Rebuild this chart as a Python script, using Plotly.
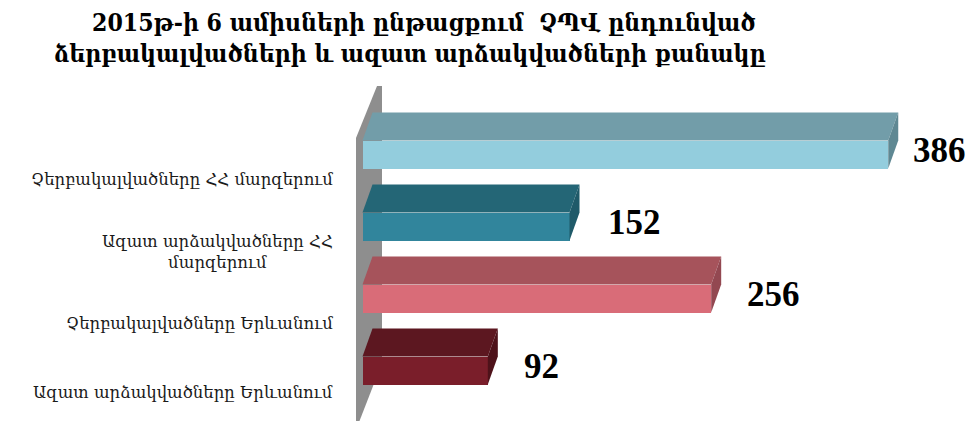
import plotly.graph_objects as go

# ---- data ----
categories = [
    "Չերբակալվածները ՀՀ մարզերում",
    "Ազատ արձակվածները ՀՀ<br>մարզերում",
    "Չերբակալվածները Երևանում",
    "Ազատ արձակվածները Երևանում",
]
values = [386, 152, 256, 92]
value_labels = ["386", "152", "256", "92"]
title_lines = [
    "2015թ-ի 6 ամիսների ընթացքում&nbsp; ՉՊՎ ընդունված",
    "ձերբակալվածների և ազատ արձակվածների քանակը",
]

# ---- styles ----
front_colors = ["#93CDDD", "#31859C", "#D96C78", "#7A1E2A"]
top_colors = ["#729DA9", "#246676", "#A6535B", "#5C1720"]
side_colors = ["#5F8893", "#1F5A69", "#934851", "#4E121A"]
wall_color = "#8E8E8E"

OFF = 8                      # page body margin of the html page
W, H = 973 - OFF, 421 - OFF  # figure size so that it fits in the window
x0_px = 362.5 - OFF          # pixel of value 0 (figure coords)
px_per_unit = 1.362
y0_px = 154.5 - OFF          # pixel center of first bar front
px_per_cat = 72.0
front_h_px = 28.0
depth_dx_px = 10.0
depth_dy_px = 28.0

xmin = -x0_px / px_per_unit
xmax = (W - x0_px) / px_per_unit
ytop = -y0_px / px_per_cat
ybot = (H - y0_px) / px_per_cat

bw = front_h_px / px_per_cat
dx = depth_dx_px / px_per_unit
dy = depth_dy_px / px_per_cat


def px_to_x(p):
    return (p - OFF - x0_px) / px_per_unit


def py_to_y(p):
    return (p - OFF - y0_px) / px_per_cat


pos = list(range(len(values)))

fig = go.Figure()

# front faces
fig.add_trace(go.Bar(
    x=values, y=pos, orientation="h", width=bw, base=0,
    marker=dict(color=front_colors, line=dict(width=0)),
    hoverinfo="skip", showlegend=False,
))

# top and side faces
for i, v in enumerate(values):
    yt = i - bw / 2
    fig.add_trace(go.Scatter(
        x=[0, dx, v + dx, v, 0], y=[yt, yt - dy, yt - dy, yt, yt],
        fill="toself", fillcolor=top_colors[i], mode="lines",
        line=dict(width=0), hoverinfo="skip", showlegend=False,
    ))
    fig.add_trace(go.Scatter(
        x=[v, v, v + dx, v + dx, v], y=[i + bw / 2, yt, yt - dy, yt - dy + bw, i + bw / 2],
        fill="toself", fillcolor=side_colors[i], mode="lines",
        line=dict(width=0), hoverinfo="skip", showlegend=False,
    ))

# wall (decorative 3D side wall), window pixel points
wall_pts = [(356, 138), (377, 86), (382, 86), (382, 363), (356, 430)]
path = "M " + " L ".join(f"{px_to_x(a)},{py_to_y(b)}" for a, b in wall_pts) + " Z"
fig.add_shape(type="path", path=path, xref="x", yref="y",
              fillcolor=wall_color, line=dict(width=0), layer="below")

ann = []
# value labels
shifts = [23, 36, 34, 34]
for i, v in enumerate(values):
    ann.append(dict(x=v, y=i, xref="x", yref="y", text=value_labels[i],
                    xanchor="left", yanchor="middle", xshift=shifts[i], yshift=4,
                    showarrow=False,
                    font=dict(family="Liberation Serif", size=35, color="#000000", weight="bold")))
# category labels
for i, c in enumerate(categories):
    ann.append(dict(x=(335 - OFF) / W, y=i, xref="paper", yref="y", text=c,
                    xanchor="right", yanchor="middle", align="center",
                    yshift=-25 if i < 3 else -22, showarrow=False,
                    font=dict(family="DejaVu Serif", size=16.5, color="#1a1a1a")))
# title
title_centers = [(424, 22), (410, 53)]
for (cx, cy), t in zip(title_centers, title_lines):
    ann.append(dict(x=(cx - OFF) / W, y=1 - (cy - OFF) / H, xref="paper", yref="paper",
                    text=f"<b>{t}</b>", xanchor="center", yanchor="middle",
                    showarrow=False,
                    font=dict(family="DejaVu Serif Condensed, DejaVu Serif", size=24.6, color="#000000")))

fig.update_layout(
    width=W, height=H,
    margin=dict(l=0, r=0, t=0, b=0),
    paper_bgcolor="white", plot_bgcolor="white",
    xaxis=dict(domain=[0, 1], range=[xmin, xmax], visible=False, fixedrange=True),
    yaxis=dict(range=[ybot, ytop], visible=False, fixedrange=True),
    annotations=ann,
    showlegend=False,
    bargap=0,
)

fig.write_html("out.html")
